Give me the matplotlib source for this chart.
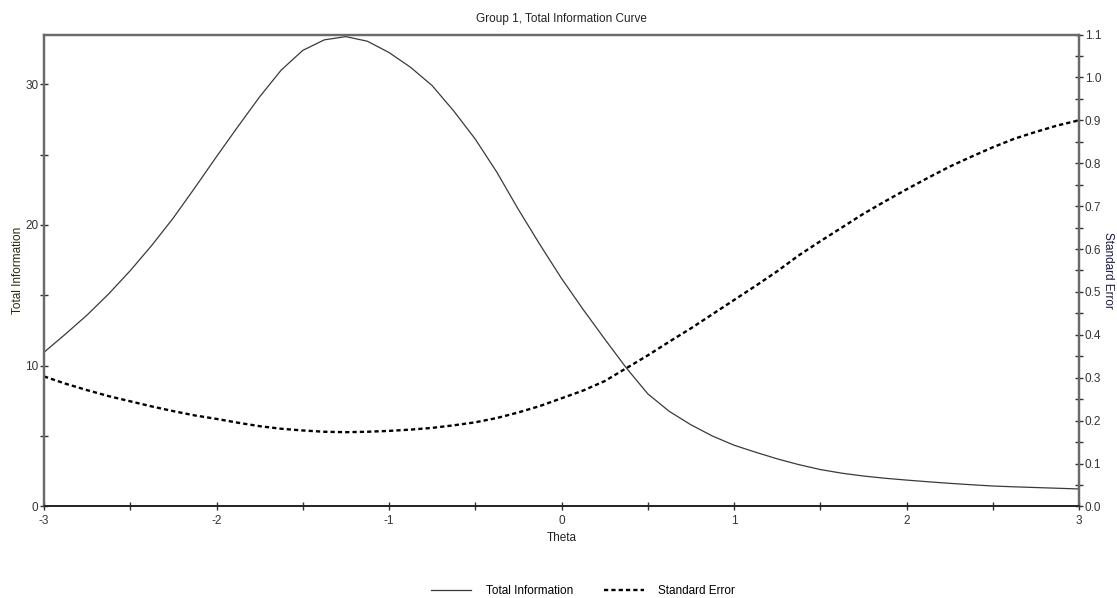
import matplotlib
matplotlib.use("Agg")
import matplotlib.pyplot as plt
from matplotlib.ticker import MultipleLocator, FormatStrFormatter

theta = [-3.0, -2.875, -2.75, -2.625, -2.5, -2.375, -2.25, -2.125, -2.0, -1.875,
         -1.75, -1.625, -1.5, -1.375, -1.25, -1.125, -1.0, -0.875, -0.75, -0.625,
         -0.5, -0.375, -0.25, -0.125, 0.0, 0.125, 0.25, 0.375, 0.5, 0.625,
         0.75, 0.875, 1.0, 1.125, 1.25, 1.375, 1.5, 1.625, 1.75, 1.875,
         2.0, 2.125, 2.25, 2.375, 2.5, 2.625, 2.75, 2.875, 3.0]
total_info = [10.95, 12.25, 13.6, 15.1, 16.75, 18.55, 20.5, 22.65, 24.85, 27.0,
              29.1, 31.0, 32.4, 33.15, 33.38, 33.05, 32.25, 31.2, 29.9, 28.1,
              26.1, 23.75, 21.1, 18.6, 16.2, 14.0, 11.9, 9.85, 8.0, 6.75,
              5.8, 5.0, 4.35, 3.85, 3.38, 2.97, 2.62, 2.36, 2.16, 2.0,
              1.87, 1.75, 1.64, 1.54, 1.45, 1.39, 1.34, 1.29, 1.24]
std_error = [0.303, 0.286, 0.271, 0.257, 0.245, 0.233, 0.222, 0.212, 0.204, 0.195,
             0.187, 0.181, 0.177, 0.174, 0.173, 0.174, 0.176, 0.179, 0.183, 0.189,
             0.196, 0.206, 0.219, 0.234, 0.252, 0.270, 0.292, 0.322, 0.352, 0.384,
             0.415, 0.448, 0.481, 0.514, 0.548, 0.585, 0.618, 0.650, 0.682, 0.711,
             0.739, 0.766, 0.792, 0.815, 0.837, 0.857, 0.873, 0.888, 0.900]

title = "Group 1, Total Information Curve"
xlabel = "Theta"
ylabel_left = "Total Information"
ylabel_right = "Standard Error"
legend_labels = ["Total Information", "Standard Error"]

plt.rcParams['font.family'] = ['Liberation Sans', 'DejaVu Sans']
FS = 8.5

fig = plt.figure(figsize=(11.17, 5.98), dpi=100)
ax = fig.add_axes([44/1117, 1-506.4/598, (1079-44)/1117, (506.4-34.5)/598])
ax2 = ax.twinx()

l1, = ax.plot(theta, total_info, color='#3a3a3a', lw=0.9, label=legend_labels[0])
l2, = ax2.plot(theta, std_error, color='black', lw=1.7, dashes=(1.8, 1.3), label=legend_labels[1])

ax.set_xlim(-3, 3)
ax.set_ylim(0, 33.53)
ax2.set_ylim(0, 1.1)

ax.xaxis.set_major_locator(MultipleLocator(1))
ax.xaxis.set_minor_locator(MultipleLocator(0.5))
ax.yaxis.set_major_locator(MultipleLocator(10))
ax.yaxis.set_minor_locator(MultipleLocator(5))
ax2.yaxis.set_major_locator(MultipleLocator(0.1))
ax2.yaxis.set_minor_locator(MultipleLocator(0.05))
ax2.yaxis.set_major_formatter(FormatStrFormatter('%.1f'))
ax.xaxis.set_major_formatter(FormatStrFormatter('%d'))

for a in (ax, ax2):
    a.tick_params(which='both', direction='inout', length=6, width=1, color='#333333',
                  labelsize=FS, labelcolor='#333333', pad=1)
    for s in a.spines.values():
        s.set_color('#6a6a6a')
        s.set_linewidth(1.6)
    a.spines['bottom'].set_color('#222222')
    a.spines['bottom'].set_linewidth(1.2)
ax.tick_params(axis='x', which='both', pad=3)

ax.set_title(title, fontsize=FS, color='#222222', pad=9)
ax.set_xlabel(xlabel, fontsize=FS, color='#222222', labelpad=4)
ax.set_ylabel(ylabel_left, fontsize=FS, color='#2a2a10')
ax.yaxis.set_label_coords(-0.019, 0.5)
ax2.set_ylabel(ylabel_right, fontsize=FS, color='#1a1a40', rotation=270, va='bottom')
ax2.yaxis.set_label_coords(1.022, 0.5)

fig.legend(handles=[l1, l2], loc='center', bbox_to_anchor=(583/1117, 1-591/598), ncol=2,
           frameon=False, fontsize=FS, handlelength=3.4, columnspacing=2.6, handletextpad=1.2)

fig.savefig('out.png', dpi=100)
